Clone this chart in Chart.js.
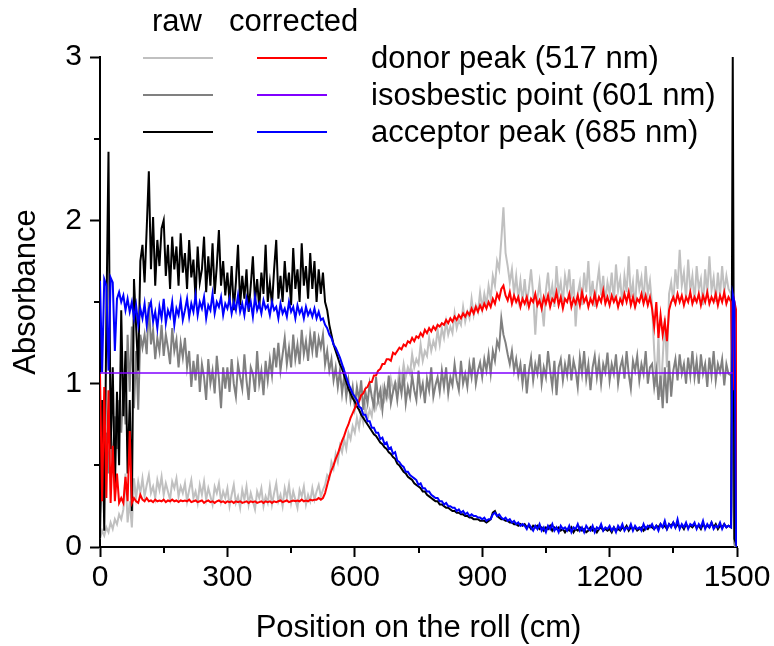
<!DOCTYPE html>
<html>
<head>
<meta charset="utf-8">
<title>Absorbance along the roll</title>
<script src="https://cdn.jsdelivr.net/npm/chart.js@4.4.1/dist/chart.umd.min.js"></script>
<style>
  html, body { margin: 0; padding: 0; background: #fff; }
  #wrap { width: 774px; height: 646px; }
</style>
</head>
<body>
<div id="wrap"><canvas id="absChart" width="774" height="646"></canvas></div>
<script>
(function () {
  'use strict';

  /* global Chart */

  var FONT = "'Liberation Sans', Arial, sans-serif";

  // sampling grid (cm): every 5 cm up to 1480, then the roll end
  var positions = [];
  for (var p = 0; p <= 1480; p += 5) positions.push(p);
  positions.push(1486, 1490, 1494, 1498, 1500);

  // raw donor peak (517 nm) - one row per 100 cm
  var donorRaw = [
    0.05, 0.1, 0.07, 0.12, 0.09, 0.15, 0.11, 0.17, 0.14, 0.2, 0.17, 0.23, 0.45, 0.15, 0.28, 0.12, 0.42, 0.3, 0.4, 0.33,
    0.42, 0.31, 0.38, 0.44, 0.33, 0.37, 0.3, 0.41, 0.35, 0.43, 0.32, 0.39, 0.34, 0.29, 0.4, 0.36, 0.42, 0.31, 0.37, 0.33,
    0.39, 0.28, 0.35, 0.41, 0.3, 0.34, 0.27, 0.38, 0.32, 0.4, 0.29, 0.36, 0.31, 0.26, 0.37, 0.33, 0.39, 0.28, 0.34, 0.3,
    0.36, 0.25, 0.32, 0.38, 0.27, 0.31, 0.24, 0.35, 0.29, 0.37, 0.26, 0.33, 0.28, 0.23, 0.34, 0.3, 0.36, 0.25, 0.31, 0.27,
    0.37, 0.26, 0.33, 0.39, 0.28, 0.32, 0.25, 0.36, 0.3, 0.38, 0.27, 0.34, 0.29, 0.24, 0.35, 0.31, 0.37, 0.26, 0.32, 0.28,
    0.36, 0.29, 0.34, 0.38, 0.31, 0.35, 0.38, 0.44, 0.42, 0.52, 0.48, 0.57, 0.52, 0.62, 0.58, 0.66, 0.6, 0.7, 0.66, 0.74,
    0.7, 0.79, 0.73, 0.82, 0.76, 0.86, 0.78, 0.84, 0.8, 0.92, 0.85, 0.9, 0.86, 0.97, 0.9, 0.95, 0.92, 1.03, 0.96, 1.01,
    0.98, 1.08, 1.02, 1.12, 1.04, 1.1, 1.06, 1.18, 1.1, 1.15, 1.12, 1.24, 1.14, 1.2, 1.17, 1.28, 1.2, 1.26, 1.22, 1.33,
    1.24, 1.34, 1.28, 1.38, 1.3, 1.35, 1.31, 1.43, 1.34, 1.39, 1.36, 1.47, 1.38, 1.44, 1.4, 1.52, 1.42, 1.48, 1.44, 1.56,
    1.46, 1.55, 1.48, 1.6, 1.52, 1.66, 1.6, 1.75, 1.7, 1.88, 2.08, 1.8, 1.72, 1.62, 1.7, 1.55, 1.66, 1.52, 1.63, 1.5,
    1.64, 1.5, 1.58, 1.7, 1.55, 1.3, 1.52, 1.62, 1.48, 1.35, 1.57, 1.68, 1.52, 1.6, 1.47, 1.72, 1.55, 1.62, 1.5, 1.66,
    1.58, 1.7, 1.52, 1.64, 1.35, 1.55, 1.62, 1.48, 1.68, 1.56, 1.75, 1.52, 1.63, 1.47, 1.6, 1.7, 1.54, 1.66, 1.5, 1.62,
    1.55, 1.68, 1.5, 1.73, 1.57, 1.64, 1.48, 1.66, 1.56, 1.78, 1.53, 1.62, 1.46, 1.7, 1.58, 1.65, 1.5, 1.72, 1.55, 1.63,
    1.48, 1.2, 0.98, 1.3, 0.92, 1.15, 1.4, 1.1, 1.55, 1.62, 1.5, 1.7, 1.58, 1.82, 1.6, 1.68, 1.52, 1.76, 1.57, 1.66,
    1.5, 1.72, 1.58, 1.64, 1.48, 1.7, 1.55, 1.78, 1.57, 1.65, 1.5, 1.68, 1.54, 1.72, 1.56, 1.66, 1.58,
    1.55, 0.3, 0.01, 0, 0
  ];

  // raw isosbestic point (601 nm)
  var isoRaw = [
    0.2, 0.55, 0.35, 0.7, 0.45, 0.75, 0.5, 0.8, 0.6, 0.9, 0.7, 1.0, 0.75, 1.3, 0.95, 1.35, 0.85, 1.2, 0.84, 1.3,
    1.22, 1.3, 1.18, 1.5, 1.24, 1.33, 1.15, 1.28, 1.2, 1.36, 1.17, 1.3, 1.22, 1.12, 1.34, 1.2, 1.27, 1.1, 1.25, 1.16,
    1.28, 1.1, 1.2, 0.98, 1.14, 1.02, 1.18, 0.95, 1.12, 1.04, 0.9, 1.15, 1.0, 1.08, 0.94, 1.17, 1.03, 0.85, 1.1, 0.97,
    1.1, 0.95, 1.15, 1.0, 0.92, 1.12, 1.04, 0.97, 1.18, 1.02, 0.9, 1.1, 1.06, 0.95, 1.2, 1.0, 1.08, 0.93, 1.14, 1.02,
    1.15, 1.05, 1.22, 1.1, 1.25, 1.08, 1.18, 1.28, 1.12, 1.22, 1.1, 1.3, 1.15, 1.24, 1.12, 1.33, 1.18, 1.26, 1.14, 1.3,
    1.2, 1.32, 1.16, 1.28, 1.22, 1.3, 1.12, 1.2, 1.08, 1.15, 1.02, 1.1, 0.98, 1.08, 0.94, 1.05, 0.92, 1.02, 0.9, 0.98,
    0.86, 0.98, 0.9, 1.02, 0.84, 0.95, 0.88, 1.0, 0.92, 0.86, 1.04, 0.9, 0.96, 0.84, 0.98, 0.92, 1.05, 0.88, 0.95, 1.0,
    0.9, 1.02, 0.94, 1.06, 0.88, 0.98, 0.92, 1.05, 0.96, 0.9, 1.08, 0.94, 1.0, 0.88, 1.03, 0.96, 1.1, 0.92, 0.99, 1.04,
    0.95, 1.08, 0.98, 1.1, 0.94, 1.04, 0.99, 1.12, 1.02, 0.96, 1.14, 1.0, 1.06, 0.98, 1.12, 1.04, 1.16, 1.0, 1.08, 1.13,
    1.04, 1.15, 1.08, 1.18, 1.06, 1.2, 1.14, 1.26, 1.22, 1.4, 1.3, 1.25, 1.18, 1.12, 1.2, 1.08, 1.15, 1.05, 1.12, 1.0,
    1.12, 0.94, 1.08, 1.16, 1.02, 1.12, 1.06, 1.18, 1.0, 1.1, 1.04, 1.2, 1.08, 0.98, 1.14, 0.93, 1.1, 1.15, 1.02, 1.12,
    1.05, 1.18, 1.02, 1.14, 1.08, 0.98, 1.16, 1.06, 1.2, 1.03, 1.12, 0.96, 1.1, 1.17, 1.04, 1.14, 1.0, 1.12, 1.07, 1.19,
    1.02, 1.12, 1.06, 1.18, 1.0, 1.1, 1.15, 1.03, 1.2, 1.06, 0.97, 1.14, 1.08, 1.17, 1.02, 1.12, 1.06, 1.2, 1.0, 1.1,
    1.12, 0.98, 1.08, 0.9, 1.05, 0.85, 1.1, 0.88, 1.14, 0.92, 1.08, 1.15, 1.02, 1.18, 1.06, 1.12, 1.0, 1.16, 1.05, 1.2,
    1.04, 1.14, 1.0, 1.18, 1.06, 1.12, 0.98, 1.16, 1.05, 1.2, 1.02, 1.12, 1.07, 1.15, 0.99, 1.12, 1.06,
    1.05, 0.6, 0.02, 0, 0
  ];

  // raw acceptor peak (685 nm)
  var acceptorRaw = [
    0.05, 0.9, 0.1, 1.4, 2.42, 0.6, 1.1, 0.35, 0.95, 0.5, 1.45, 0.8, 1.2, 0.45, 0.9, 0.22, 1.64, 1.35, 1.08, 1.75,
    1.85, 1.62, 1.95, 2.3, 1.7, 2.02, 1.6, 1.88, 1.72, 1.95, 2.0, 1.66, 1.85, 1.58, 1.9, 1.7, 1.84, 1.6, 1.92, 1.68,
    1.8, 1.58, 1.88, 1.65, 1.76, 1.52, 1.84, 1.62, 1.7, 1.9, 1.56, 1.78, 1.6, 1.86, 1.55, 1.72, 1.94, 1.6, 1.75, 1.54,
    1.68, 1.5, 1.72, 1.45, 1.62, 1.85, 1.48, 1.66, 1.52, 1.7, 1.44, 1.6, 1.78, 1.5, 1.64, 1.46, 1.68, 1.55, 1.85, 1.5,
    1.62, 1.48, 1.7, 1.88, 1.52, 1.66, 1.5, 1.75, 1.56, 1.68, 1.48, 1.83, 1.58, 1.7, 1.5, 1.86, 1.6, 1.72, 1.52, 1.8,
    1.58, 1.75, 1.5, 1.7, 1.55, 1.68, 1.5, 1.45, 1.36, 1.3, 1.24, 1.2, 1.16, 1.12, 1.09, 1.05, 1.01, 0.97, 0.94, 0.91,
    0.89, 0.86, 0.84, 0.81, 0.79, 0.77, 0.75, 0.73, 0.71, 0.69, 0.68, 0.66, 0.64, 0.63, 0.61, 0.6, 0.58, 0.57, 0.55, 0.54,
    0.51, 0.5, 0.48, 0.46, 0.45, 0.43, 0.42, 0.41, 0.39, 0.38, 0.37, 0.36, 0.34, 0.34, 0.32, 0.31, 0.3, 0.29, 0.28, 0.28,
    0.26, 0.26, 0.25, 0.24, 0.24, 0.23, 0.22, 0.22, 0.21, 0.21, 0.2, 0.2, 0.19, 0.19, 0.18, 0.18, 0.17, 0.17, 0.17, 0.16,
    0.16, 0.16, 0.15, 0.16, 0.17, 0.21, 0.22, 0.19, 0.18, 0.17, 0.17, 0.16, 0.16, 0.15, 0.15, 0.14, 0.14, 0.13, 0.14, 0.13,
    0.14, 0.12, 0.13, 0.11, 0.13, 0.12, 0.13, 0.11, 0.12, 0.1, 0.12, 0.11, 0.13, 0.1, 0.12, 0.11, 0.12, 0.1, 0.11, 0.09,
    0.11, 0.1, 0.12, 0.09, 0.11, 0.1, 0.12, 0.1, 0.11, 0.09, 0.1, 0.12, 0.1, 0.11, 0.09, 0.11, 0.12, 0.1, 0.11, 0.1,
    0.11, 0.09, 0.12, 0.1, 0.11, 0.1, 0.12, 0.11, 0.13, 0.1, 0.12, 0.11, 0.12, 0.1, 0.11, 0.12, 0.1, 0.12, 0.11, 0.13,
    0.12, 0.11, 0.13, 0.12, 0.14, 0.12, 0.13, 0.11, 0.14, 0.13, 0.15, 0.12, 0.14, 0.12, 0.13, 0.11, 0.14, 0.12, 0.13, 0.12,
    0.14, 0.12, 0.13, 0.11, 0.14, 0.12, 0.13, 0.12, 0.15, 0.12, 0.14, 0.11, 0.13, 0.12, 0.14, 0.12, 0.13,
    0.12, 3.0, 0.05, 0.02, 0
  ];

  // corrected donor peak
  var donorCorr = [
    1.06, 0.28, 0.98, 0.3, 0.96, 0.27, 0.62, 0.28, 0.45, 0.27, 0.3, 0.27, 0.43, 0.28, 0.71, 0.27, 0.3, 0.28, 0.27, 0.32,
    0.29, 0.28, 0.3, 0.28, 0.285, 0.275, 0.29, 0.28, 0.285, 0.28, 0.29, 0.275, 0.285, 0.28, 0.29, 0.28, 0.285, 0.275, 0.285, 0.28,
    0.285, 0.28, 0.29, 0.275, 0.28, 0.285, 0.275, 0.28, 0.285, 0.27, 0.28, 0.285, 0.275, 0.28, 0.27, 0.28, 0.285, 0.275, 0.28, 0.27,
    0.28, 0.275, 0.28, 0.27, 0.28, 0.275, 0.28, 0.27, 0.275, 0.28, 0.27, 0.28, 0.275, 0.28, 0.27, 0.275, 0.28, 0.27, 0.28, 0.275,
    0.28, 0.27, 0.28, 0.275, 0.28, 0.285, 0.275, 0.28, 0.285, 0.275, 0.28, 0.285, 0.28, 0.285, 0.28, 0.29, 0.28, 0.285, 0.28, 0.29,
    0.285, 0.29, 0.29, 0.3, 0.29, 0.3, 0.33, 0.38, 0.43, 0.47, 0.5, 0.54, 0.57, 0.61, 0.65, 0.68, 0.72, 0.75, 0.79, 0.82,
    0.85, 0.88, 0.89, 0.93, 0.94, 0.97, 0.98, 1.01, 1.01, 1.05, 1.05, 1.08, 1.09, 1.12, 1.12, 1.15, 1.15, 1.14, 1.19, 1.18,
    1.2, 1.22, 1.21, 1.24, 1.23, 1.26, 1.25, 1.28, 1.26, 1.29, 1.28, 1.31, 1.29, 1.33, 1.31, 1.34, 1.32, 1.35, 1.33, 1.36,
    1.35, 1.37, 1.36, 1.39, 1.37, 1.4, 1.38, 1.41, 1.39, 1.42, 1.4, 1.43, 1.41, 1.44, 1.42, 1.46, 1.43, 1.47, 1.44, 1.48,
    1.45, 1.49, 1.46, 1.5, 1.47, 1.52, 1.49, 1.55, 1.52, 1.58, 1.6, 1.54, 1.51, 1.56, 1.49, 1.54, 1.5, 1.53, 1.47, 1.52,
    1.49, 1.53, 1.47, 1.52, 1.5, 1.55, 1.48, 1.51, 1.46, 1.53, 1.49, 1.54, 1.47, 1.52, 1.5, 1.56, 1.48, 1.53, 1.46, 1.52,
    1.5, 1.55, 1.47, 1.52, 1.49, 1.54, 1.48, 1.56, 1.5, 1.53, 1.47, 1.52, 1.49, 1.55, 1.48, 1.53, 1.5, 1.57, 1.49, 1.53,
    1.48, 1.54, 1.5, 1.53, 1.47, 1.52, 1.49, 1.55, 1.5, 1.56, 1.48, 1.53, 1.47, 1.52, 1.5, 1.55, 1.49, 1.54, 1.48, 1.53,
    1.46, 1.35, 1.5, 1.28, 1.42, 1.3, 1.38, 1.26, 1.45, 1.5, 1.53, 1.49, 1.55, 1.5, 1.54, 1.48, 1.53, 1.5, 1.56, 1.49,
    1.53, 1.5, 1.55, 1.48, 1.54, 1.5, 1.56, 1.49, 1.53, 1.5, 1.55, 1.48, 1.54, 1.5, 1.56, 1.49, 1.53,
    1.5, 0.96, 1.5, 1.45, 0
  ];

  // corrected acceptor peak
  var acceptorCorr = [
    1.63, 1.07, 1.64, 1.6, 1.08, 1.65, 1.62, 1.2, 1.52, 1.56, 1.5, 1.54, 1.45, 1.52, 1.44, 1.5, 1.4, 1.48, 1.36, 1.46,
    1.4, 1.49, 1.36, 1.46, 1.5, 1.38, 1.44, 1.34, 1.47, 1.4, 1.52, 1.37, 1.45, 1.41, 1.5, 1.36, 1.46, 1.42, 1.51, 1.39,
    1.45, 1.52, 1.41, 1.49, 1.44, 1.54, 1.42, 1.5, 1.46, 1.53, 1.4, 1.48, 1.45, 1.55, 1.43, 1.5, 1.47, 1.53, 1.42, 1.49,
    1.46, 1.52, 1.43, 1.5, 1.45, 1.54, 1.44, 1.49, 1.42, 1.52, 1.46, 1.5, 1.41, 1.53, 1.45, 1.49, 1.43, 1.51, 1.46, 1.48,
    1.42, 1.5, 1.45, 1.47, 1.4, 1.49, 1.43, 1.46, 1.41, 1.5, 1.44, 1.47, 1.4, 1.48, 1.43, 1.46, 1.4, 1.47, 1.42, 1.45,
    1.41, 1.46, 1.4, 1.44, 1.39, 1.4, 1.36, 1.34, 1.3, 1.28, 1.24, 1.22, 1.19, 1.16, 1.12, 1.08, 1.04, 1.0, 0.97, 0.94,
    0.92, 0.9, 0.86, 0.85, 0.81, 0.81, 0.77, 0.77, 0.73, 0.73, 0.7, 0.7, 0.66, 0.67, 0.63, 0.64, 0.6, 0.61, 0.57, 0.58,
    0.53, 0.52, 0.5, 0.49, 0.46, 0.46, 0.44, 0.43, 0.42, 0.41, 0.38, 0.39, 0.36, 0.36, 0.34, 0.34, 0.32, 0.31, 0.3, 0.3,
    0.28, 0.28, 0.26, 0.27, 0.25, 0.25, 0.24, 0.24, 0.22, 0.23, 0.21, 0.22, 0.2, 0.21, 0.19, 0.2, 0.19, 0.19, 0.18, 0.18,
    0.17, 0.18, 0.16, 0.17, 0.17, 0.2, 0.21, 0.19, 0.2, 0.18, 0.17, 0.18, 0.16, 0.17, 0.15, 0.16, 0.14, 0.15, 0.13, 0.14,
    0.13, 0.11, 0.14, 0.12, 0.1, 0.13, 0.11, 0.14, 0.1, 0.12, 0.09, 0.13, 0.11, 0.14, 0.1, 0.12, 0.09, 0.13, 0.11, 0.12,
    0.1, 0.13, 0.09, 0.12, 0.11, 0.14, 0.1, 0.12, 0.09, 0.13, 0.11, 0.1, 0.13, 0.09, 0.12, 0.11, 0.14, 0.1, 0.12, 0.11,
    0.13, 0.1, 0.12, 0.09, 0.13, 0.11, 0.14, 0.1, 0.12, 0.11, 0.14, 0.1, 0.13, 0.11, 0.12, 0.1, 0.14, 0.11, 0.13, 0.12,
    0.14, 0.11, 0.13, 0.1, 0.14, 0.12, 0.16, 0.11, 0.14, 0.12, 0.15, 0.12, 0.17, 0.11, 0.14, 0.12, 0.15, 0.11, 0.14, 0.13,
    0.15, 0.11, 0.14, 0.12, 0.16, 0.11, 0.14, 0.12, 0.15, 0.11, 0.13, 0.12, 0.15, 0.11, 0.14, 0.12, 0.13,
    0.12, 1.55, 1.5, 0.02, 0
  ];

  // corrected isosbestic point: flat level
  var isoCorrPos = [0, 1490];
  var isoCorr = [1.065, 1.065];

  var xTicks = [0, 300, 600, 900, 1200, 1500];
  var xMinorTicks = [150, 450, 750, 1050, 1350];
  var yTicks = [0, 1, 2, 3];
  var yMinorTicks = [0.5, 1.5, 2.5];

  var legendRows = ['donor peak (517 nm)', 'isosbestic point (601 nm)', 'acceptor peak (685 nm)'];

  function toPoints(xs, ys) {
    return ys.map(function (v, i) { return { x: xs[i], y: v }; });
  }

  function series(label, color, xs, ys) {
    return {
      label: label,
      data: toPoints(xs, ys),
      borderColor: color,
      backgroundColor: color,
      borderWidth: 2,
      pointRadius: 0,
      tension: 0,
      fill: false,
    };
  }

  // first dataset is drawn on top
  var datasets = [
    series('isosbestic corrected', '#8000ff', isoCorrPos, isoCorr),
    series('acceptor corrected', '#0000ff', positions, acceptorCorr),
    series('donor corrected', '#ff0000', positions, donorCorr),
    series('acceptor raw', '#000000', positions, acceptorRaw),
    series('isosbestic raw', '#808080', positions, isoRaw),
    series('donor raw', '#c0c0c0', positions, donorRaw),
  ];
  datasets[0].borderWidth = 1.6;

  var decorPlugin = {
    id: 'decor',
    afterDraw: function (chart) {
      var ctx = chart.ctx;
      var area = chart.chartArea;
      var xs = chart.scales.x;
      var ys = chart.scales.y;
      var ds = chart.data.datasets;
      ctx.save();

      // minor ticks
      ctx.strokeStyle = '#000';
      ctx.lineWidth = 2;
      ctx.beginPath();
      xMinorTicks.forEach(function (v) {
        var px = Math.round(xs.getPixelForValue(v));
        ctx.moveTo(px, area.bottom);
        ctx.lineTo(px, area.bottom + 6);
      });
      yMinorTicks.forEach(function (v) {
        var py = Math.round(ys.getPixelForValue(v));
        ctx.moveTo(area.left - 6, py);
        ctx.lineTo(area.left, py);
      });
      ctx.stroke();

      // axis titles
      ctx.fillStyle = '#000';
      ctx.font = '31px ' + FONT;
      ctx.textAlign = 'center';
      ctx.textBaseline = 'alphabetic';
      ctx.fillText('Position on the roll (cm)', (area.left + area.right) / 2, 637);
      ctx.save();
      ctx.translate(35, 292);
      ctx.rotate(-Math.PI / 2);
      ctx.fillText('Absorbance', 0, 0);
      ctx.restore();

      // legend: raw / corrected columns
      ctx.textAlign = 'left';
      ctx.fillText('raw', 152, 31);
      ctx.fillText('corrected', 229, 31);
      var rawCols = [ds[5].borderColor, ds[4].borderColor, ds[3].borderColor];
      var corrCols = [ds[2].borderColor, ds[0].borderColor, ds[1].borderColor];
      ctx.lineWidth = 2;
      ctx.textBaseline = 'middle';
      legendRows.forEach(function (txt, i) {
        var y = 58 + i * 37;
        ctx.strokeStyle = rawCols[i];
        ctx.beginPath();
        ctx.moveTo(143, y);
        ctx.lineTo(213, y);
        ctx.stroke();
        ctx.strokeStyle = corrCols[i];
        ctx.beginPath();
        ctx.moveTo(257, y);
        ctx.lineTo(327, y);
        ctx.stroke();
        ctx.fillText(txt, 371, y + 1);
      });

      ctx.restore();
    }
  };

  function axisOpts(min, max, ticks, extra) {
    var o = {
      type: 'linear',
      min: min,
      max: max,
      afterBuildTicks: function (scale) {
        scale.ticks = ticks.map(function (v) { return { value: v }; });
      },
      border: { display: true, color: '#000', width: 2 },
      grid: {
        drawOnChartArea: false,
        drawTicks: true,
        tickLength: 10,
        tickWidth: 2,
        tickColor: '#000',
      },
      ticks: {
        color: '#000',
        font: { family: FONT, size: 30 },
        autoSkip: false,
        maxRotation: 0,
        callback: function (v) { return String(v); },
      },
    };
    Object.keys(extra).forEach(function (k) { o[k] = extra[k]; });
    return o;
  }

  var xAxis = axisOpts(0, 1500, xTicks, { afterFit: function (s) { s.height = 99; } });
  xAxis.ticks.padding = 3;
  var yAxis = axisOpts(0, 3, yTicks, { afterFit: function (s) { s.width = 100; } });
  yAxis.ticks.padding = 8;

  new Chart(document.getElementById('absChart'), {
    type: 'line',
    data: { datasets: datasets },
    options: {
      responsive: false,
      animation: false,
      devicePixelRatio: 1,
      parsing: false,
      layout: { padding: { top: 57, right: 37, left: 0, bottom: 0 } },
      plugins: { legend: { display: false }, tooltip: { enabled: false } },
      scales: { x: xAxis, y: yAxis },
    },
    plugins: [decorPlugin],
  });
})();
</script>
</body>
</html>
